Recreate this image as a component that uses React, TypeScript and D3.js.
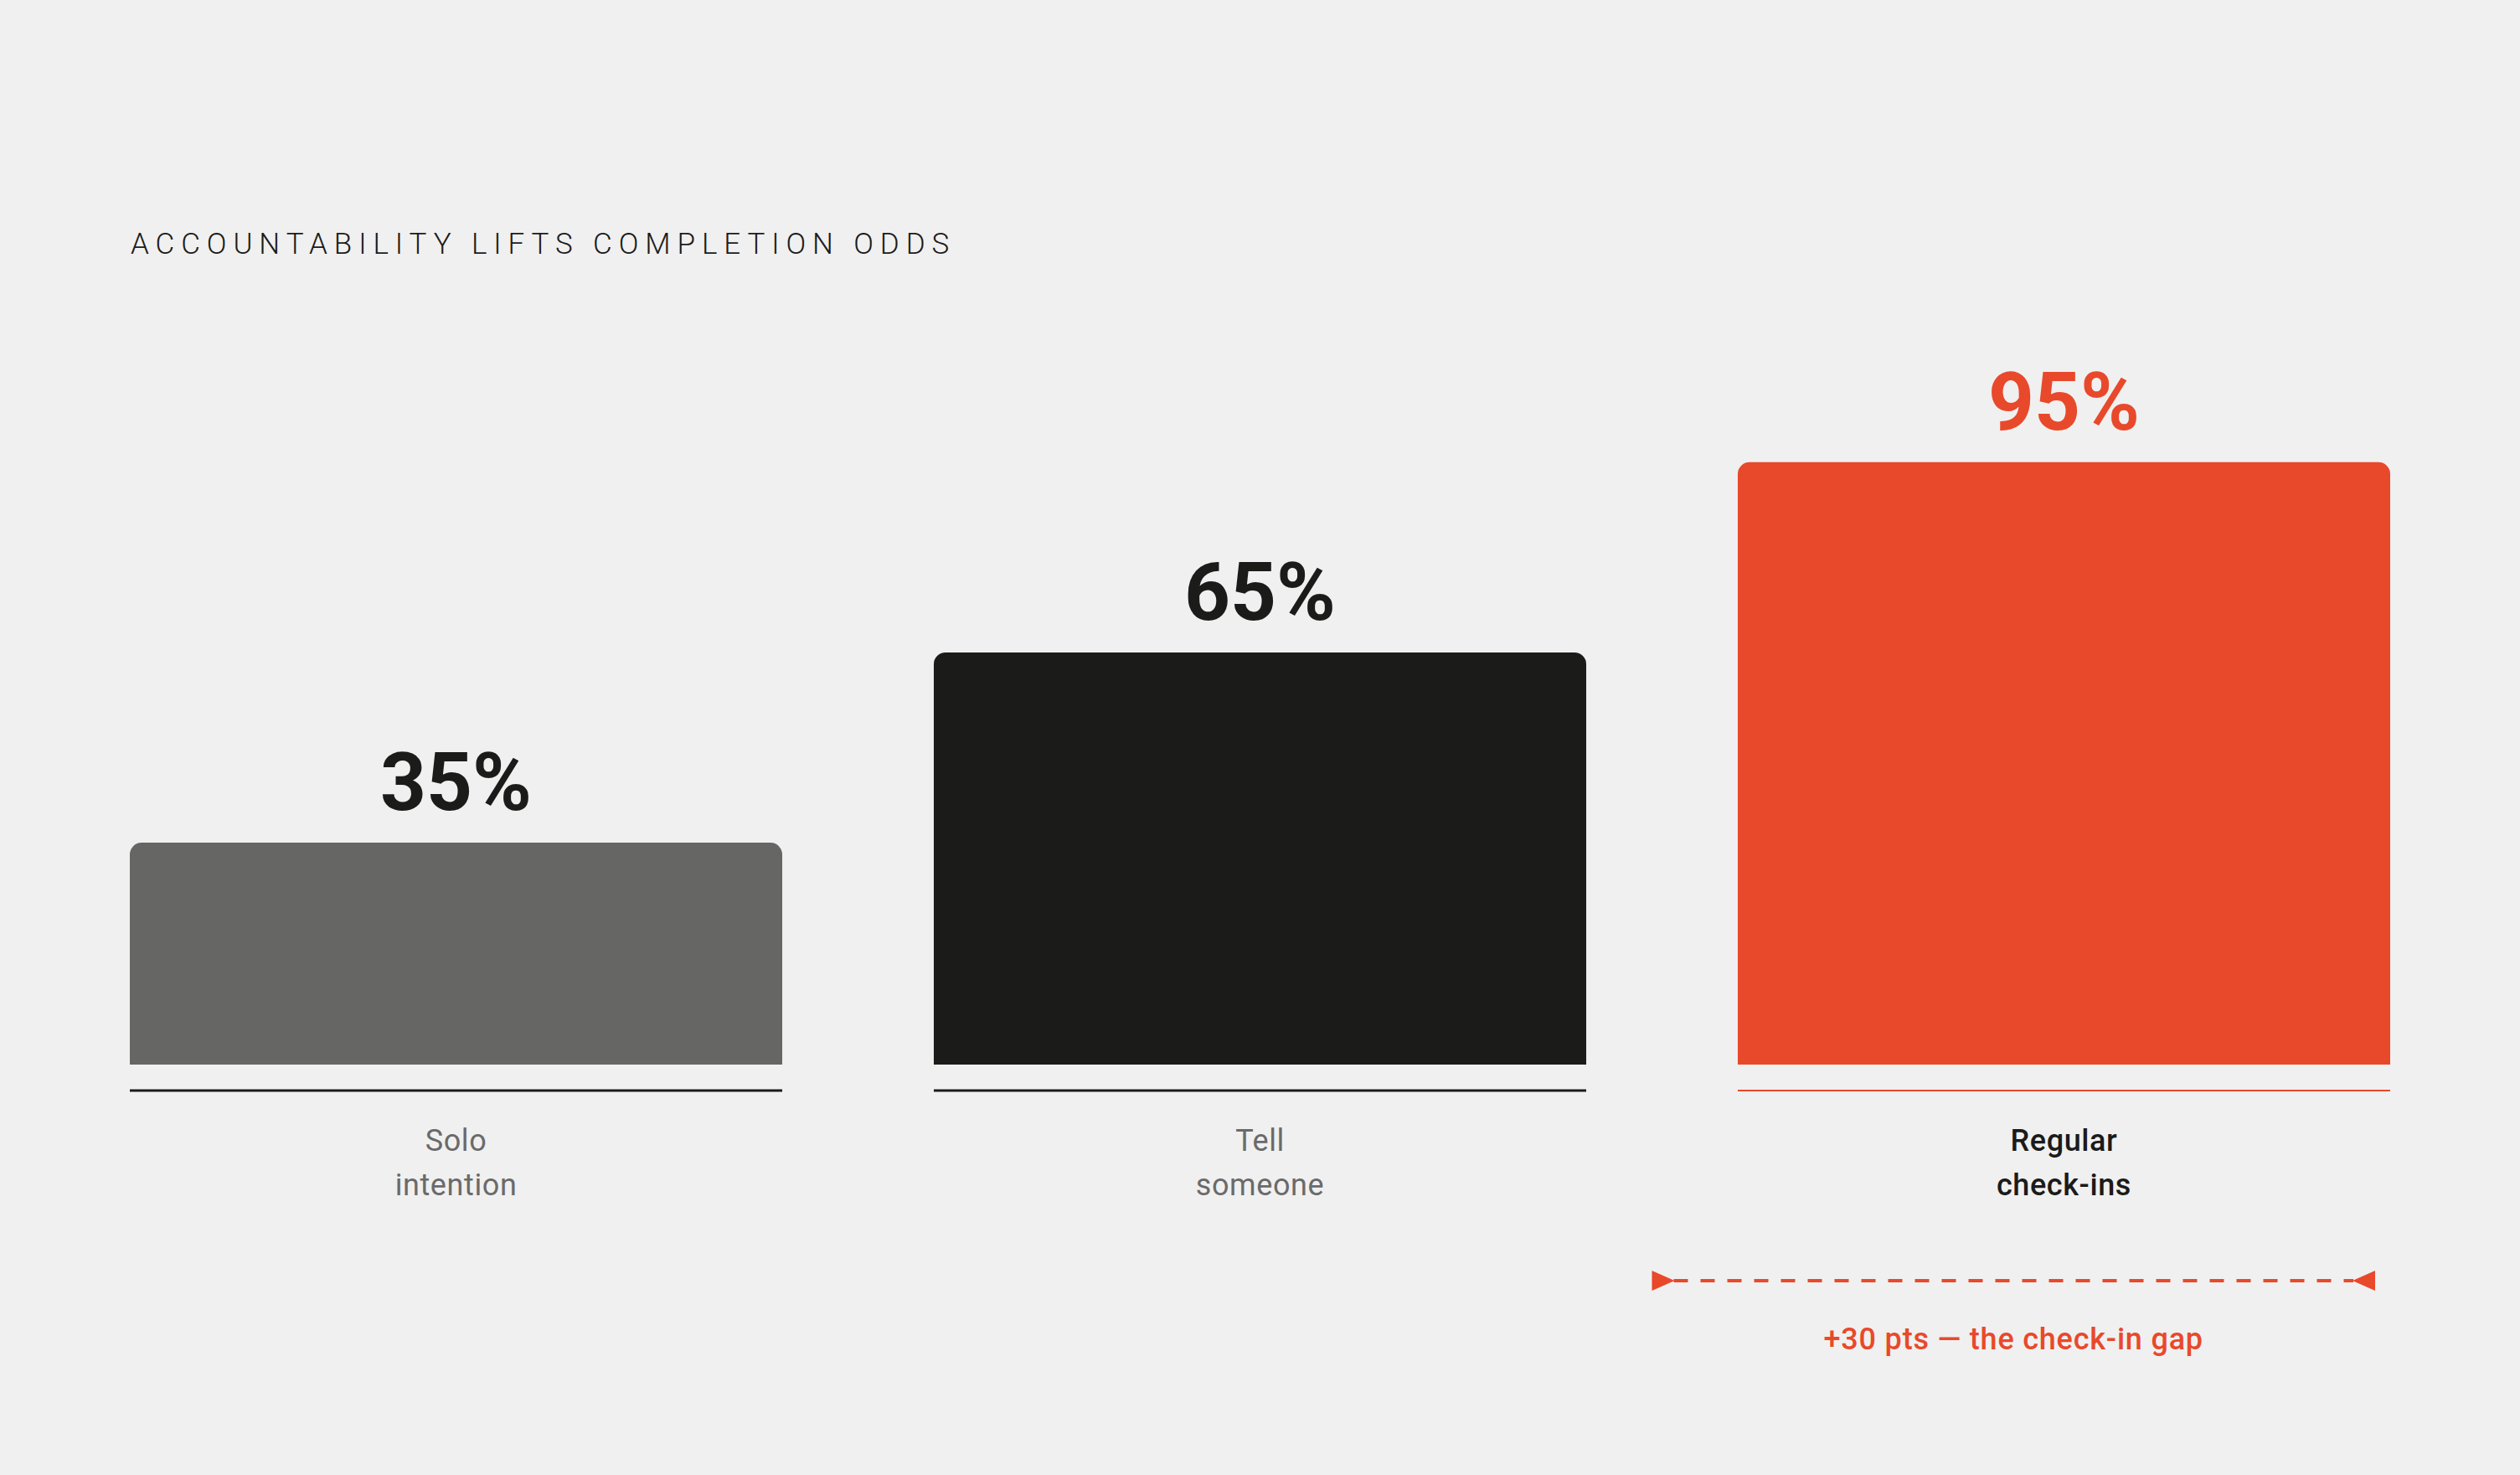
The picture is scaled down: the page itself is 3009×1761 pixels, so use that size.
import * as d3 from "d3";

const categories = ["Solo intention", "Tell someone", "Regular check-ins"];
const labelLines = [["Solo", "intention"], ["Tell", "someone"], ["Regular", "check-ins"]];
const values = [35, 65, 95];
const barColors = ["#666665", "#1b1b1a", "#e8492b"];
const title = "ACCOUNTABILITY LIFTS COMPLETION ODDS";
const gapNote = "+30 pts — the check-in gap";

const W = 3009;
const H = 1761;
const RED = "#e8492b";
const INK = "#1b1b1a";
const FONT = "Roboto, 'Noto Sans', sans-serif";

const App = () => {
  const x = d3.scaleBand().domain(categories).range([155, 2854]).paddingInner(0.1885).paddingOuter(0);
  const y = d3.scaleLinear().domain([0, 100]).range([1271, 514]);
  const bw = x.bandwidth();
  const r = 14;

  // rounded top corners only
  const barPath = (x0: number, y0: number, w: number, h: number) => {
    const p = d3.path();
    p.moveTo(x0, y0 + h);
    p.lineTo(x0, y0 + r);
    p.arcTo(x0, y0, x0 + r, y0, r);
    p.lineTo(x0 + w - r, y0);
    p.arcTo(x0 + w, y0, x0 + w, y0 + r, r);
    p.lineTo(x0 + w, y0 + h);
    p.closePath();
    return p.toString();
  };

  const last = categories[2];
  const gapX0 = (x(last) as number) - (x.step() - bw) / 2 - 12;
  const gapX1 = (x(last) as number) + bw - 18;
  const gapY = 1529;

  return (
    <svg width={W} height={H} style={{ position: "absolute", left: 0, top: 0, display: "block" }}>
      <rect width={W} height={H} fill="#f0f0f0" />
      <text x={156} y={303} fontFamily={FONT} fontWeight={300} fontSize={35} letterSpacing={7.9} fill={INK}>
        {title}
      </text>
      {categories.map((c, i) => {
        const x0 = x(c) as number;
        const cx = x0 + bw / 2;
        const top = y(values[i]);
        const hi = i === 2;
        return (
          <g key={c}>
            <path d={barPath(x0, top, bw, y(0) - top)} fill={barColors[i]} />
            <text x={cx} y={top - 39} textAnchor="middle" fontFamily={FONT} fontWeight={700} fontSize={96} fill={hi ? RED : INK}>
              {values[i]}%
            </text>
            <line x1={x0} x2={x0 + bw} y1={1302} y2={1302} stroke={hi ? RED : INK} strokeWidth={hi ? 2 : 3} />
            {labelLines[i].map((t, j) => (
              <text key={t} x={cx} y={1374 + j * 53} textAnchor="middle" fontFamily={FONT} fontWeight={hi ? 500 : 400} fontSize={36} letterSpacing={0.6} fill={hi ? INK : "#6a6a6a"}>
                {t}
              </text>
            ))}
          </g>
        );
      })}
      <line x1={gapX0 + 26} x2={gapX1 - 26} y1={gapY} y2={gapY} stroke={RED} strokeWidth={4} strokeDasharray="17 15" />
      <path d={`M${gapX0},${gapY - 12}L${gapX0 + 27},${gapY}L${gapX0},${gapY + 12}Z`} fill={RED} />
      <path d={`M${gapX1},${gapY - 12}L${gapX1 - 27},${gapY}L${gapX1},${gapY + 12}Z`} fill={RED} />
      <text x={(gapX0 + gapX1) / 2} y={1611} textAnchor="middle" fontFamily={FONT} fontWeight={500} fontSize={36} letterSpacing={0.8} fill={RED}>
        {gapNote}
      </text>
    </svg>
  );
};

export default App;
